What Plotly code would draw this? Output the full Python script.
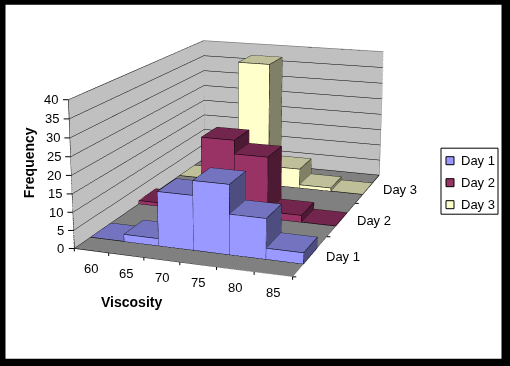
import plotly.graph_objects as go

viscosity = [60, 65, 70, 75, 80, 85]
days = ["Day 1", "Day 2", "Day 3"]
day1 = [0, 2, 15, 19, 11, 3]
day2 = [1, 0, 22, 18, 2, 0]
day3 = [0, 0, 38, 6, 1, 0]
front_colors = ["#9999FF", "#993366", "#FFFFCC"]
top_colors = ["#7373BF", "#73264D", "#BFBF99"]
side_colors = ["#4D4D80", "#4D1A33", "#808066"]
freq_ticks = [0, 5, 10, 15, 20, 25, 30, 35, 40]

# The reference has a "shift lens" perspective: the figure is larger than the
# window and the page is offset so that the 510x366 window shows the right part.
W, H = 510, 366
W2, H2, OX, OY = 546, 951, 35.5, 323.7
XR = (57.5, 87.52); YR = (0.5, 3.5); ZR = (0, 40)

fig = go.Figure()


def add_series(name, values, yc, front, top, side):
    vx, vy, vz, fi, fj, fk, fc = [], [], [], [], [], [], []
    ex, ey, ez = [], [], []
    for xv, v in zip(viscosity, values):
        x0, x1, y0, y1, z0, z1 = xv - 2.5, xv + 2.5, yc - 0.2, yc + 0.2, 0, v
        b = len(vx)
        vx += [x0, x1, x1, x0, x0, x1, x1, x0]
        vy += [y0, y0, y1, y1, y0, y0, y1, y1]
        vz += [z0, z0, z0, z0, z1, z1, z1, z1]
        quads = [((0, 1, 5, 4), front), ((4, 5, 6, 7), top), ((1, 2, 6, 5), side),
                 ((3, 0, 4, 7), side), ((2, 3, 7, 6), front)]
        for q, col in quads:
            fi += [b + q[0], b + q[0]]; fj += [b + q[1], b + q[2]]; fk += [b + q[2], b + q[3]]
            fc += [col, col]
        for a, c in [(0, 1), (1, 2), (2, 3), (3, 0), (4, 5), (5, 6), (6, 7), (7, 4), (0, 4), (1, 5), (2, 6), (3, 7)]:
            ex += [vx[b + a], vx[b + c], None]; ey += [vy[b + a], vy[b + c], None]; ez += [vz[b + a], vz[b + c], None]
    fig.add_trace(go.Mesh3d(x=vx, y=vy, z=vz, i=fi, j=fj, k=fk, facecolor=fc, name=name,
                            flatshading=True, hoverinfo="name",
                            lighting=dict(ambient=1, diffuse=0, specular=0, fresnel=0, roughness=1)))
    fig.add_trace(go.Scatter3d(x=ex, y=ey, z=ez, mode="lines", line=dict(color="black", width=1.2),
                               showlegend=False, hoverinfo="skip"))


for i, vals in enumerate([day1, day2, day3]):
    add_series(days[i], vals, i + 1, front_colors[i], top_colors[i], side_colors[i])

# axis lines (black) and wall outlines (grey)
fig.add_trace(go.Scatter3d(
    x=[XR[0], XR[0], None, XR[0], XR[1], XR[1]],
    y=[YR[0], YR[0], None, YR[0], YR[0], YR[1]],
    z=[ZR[1], 0, None, 0, 0, 0],
    mode="lines", line=dict(color="black", width=1.2), showlegend=False, hoverinfo="skip"))
fig.add_trace(go.Scatter3d(
    x=[XR[0], XR[0], XR[1], XR[1], None, XR[0], XR[0]],
    y=[YR[0], YR[1], YR[1], YR[1], None, YR[1], YR[1]],
    z=[ZR[1], ZR[1], ZR[1], 0, None, ZR[1], 0],
    mode="lines", line=dict(color="#808080", width=1.5), showlegend=False, hoverinfo="skip"))

font = dict(family="Liberation Sans", size=13, color="black")
bold = dict(family="Liberation Sans", size=14, color="black")
ann3d = []
for v in viscosity:
    ann3d.append(dict(x=v, y=YR[0], z=0, text=str(v), showarrow=False, yshift=-18, font=font))
for t in freq_ticks:
    ann3d.append(dict(x=XR[0], y=YR[0], z=t, text=str(t), showarrow=False, xanchor="right", xshift=-8, font=font))
for i, d in enumerate(days):
    ann3d.append(dict(x=XR[1], y=i + 1, z=0, text=d, showarrow=False, xanchor="left", xshift=13, yshift=-1, font=font))


def tick(x, y, z, ax, ay):
    return dict(x=x, y=y, z=z, text=" ", showarrow=True, arrowhead=0, arrowwidth=1, arrowcolor="black",
                standoff=0, ax=ax, ay=ay, font=dict(size=4))


for v in viscosity + [viscosity[-1] + 5]:
    ann3d.append(tick(v - 2.5, YR[0], 0, 0, 7))
for b in range(4):
    ann3d.append(tick(XR[1], YR[0] + b, 0, 5.5, 0))
for t in freq_ticks:
    ann3d.append(tick(XR[0], YR[0], t, -7.5, 0))

ax_common = dict(showticklabels=False, title="", zeroline=False, showline=False, showspikes=False, ticks="")
px = lambda x: (x + OX) / W2
py = lambda y: 1 - (y + OY) / H2
shapes = [dict(type="rect", xref="paper", yref="paper", x0=px(5), x1=px(501), y0=py(5), y1=py(359),
               fillcolor="white", line_width=0, layer="below"),
          dict(type="rect", xref="paper", yref="paper", x0=px(440.5), x1=px(497.5), y0=py(148.5), y1=py(214.5),
               fillcolor="white", line=dict(color="black", width=1))]
anns = [dict(xref="paper", yref="paper", x=px(131), y=py(302), text="<b>Viscosity</b>", showarrow=False,
             xanchor="center", yanchor="middle", font=bold),
        dict(xref="paper", yref="paper", x=px(28), y=py(163), text="<b>Frequency</b>", textangle=-90, showarrow=False,
             xanchor="center", yanchor="middle", font=bold)]
for i, d in enumerate(days):
    yy = 161 + 22 * i
    shapes.append(dict(type="rect", xref="paper", yref="paper", x0=px(445.5), x1=px(453.5), y0=py(yy - 4), y1=py(yy + 4),
                       fillcolor=front_colors[i], line=dict(color="black", width=1)))
    anns.append(dict(xref="paper", yref="paper", x=px(458), y=py(yy), xanchor="left", yanchor="middle", text=d,
                     showarrow=False, font=font))

fig.update_layout(
    width=W2, height=H2, margin=dict(l=0, r=0, t=0, b=0, pad=0), paper_bgcolor="black", showlegend=False,
    shapes=shapes, annotations=anns,
    scene=dict(
        domain=dict(x=[0, 1], y=[0, 1]), bgcolor="rgba(0,0,0,0)", aspectmode="manual",
        aspectratio=dict(x=1, y=1.567, z=0.667),
        camera=dict(eye=dict(x=1.776, y=-5.003, z=1.396), center=dict(x=0.015, y=-0.096, z=-0.022),
                    up=dict(x=0, y=0, z=1), projection=dict(type="perspective")),
        xaxis=dict(range=XR, tickvals=viscosity, showgrid=False, showbackground=True, backgroundcolor="#C0C0C0", **ax_common),
        yaxis=dict(range=YR, tickvals=[1, 2, 3], showgrid=False, showbackground=True, backgroundcolor="#C0C0C0", **ax_common),
        zaxis=dict(range=ZR, tickvals=freq_ticks, showgrid=True, gridcolor="black", gridwidth=1, showbackground=True,
                   backgroundcolor="#808080", **ax_common),
        annotations=ann3d,
    ),
)
fig.write_html("out.html", config=dict(displayModeBar=False),
               post_script=f"document.body.style.margin='0';document.body.style.overflow='hidden';"
                           f"document.documentElement.style.overflow='hidden';"
                           f"document.body.style.marginLeft='{-OX}px';document.body.style.marginTop='{-OY}px';")
